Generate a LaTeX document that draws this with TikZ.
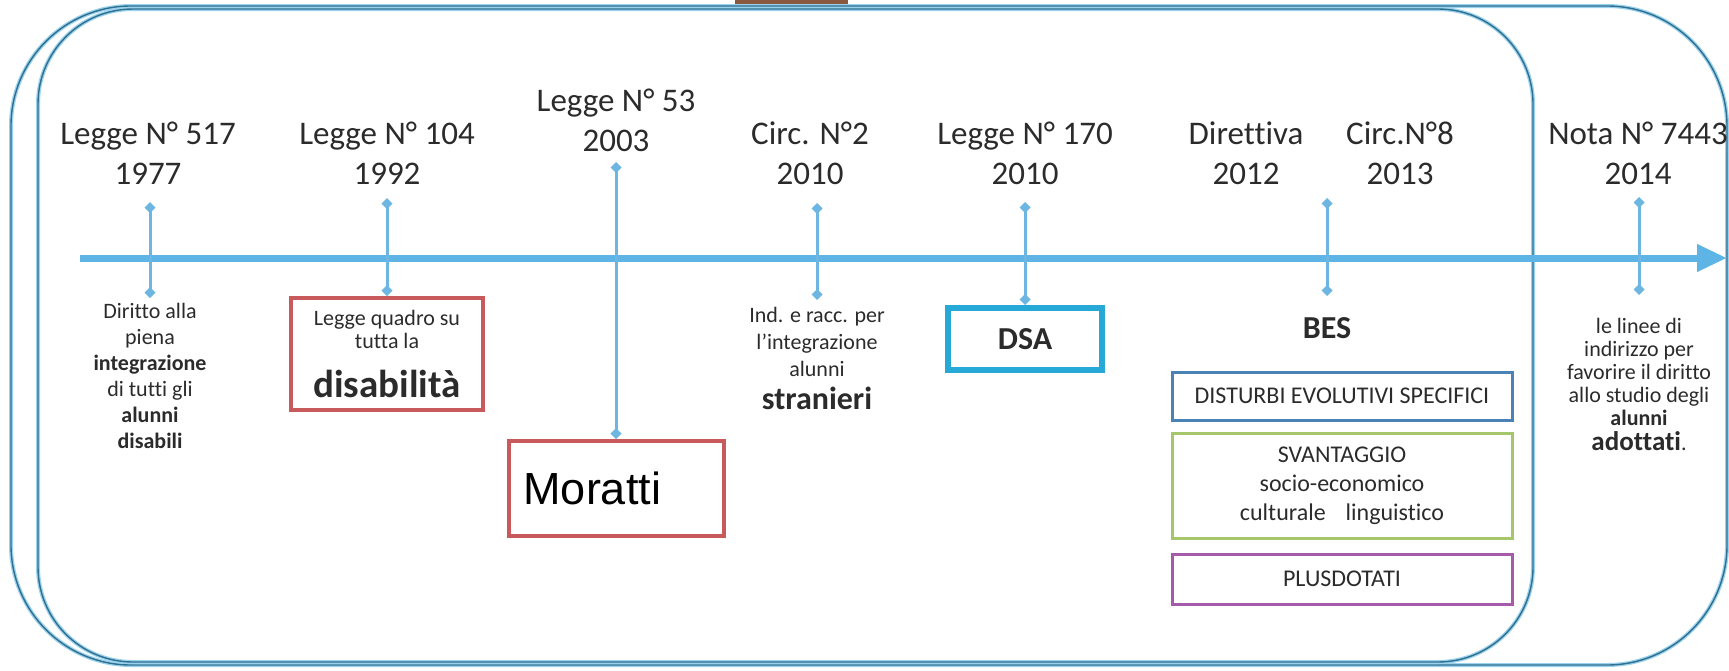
\documentclass[tikz,border=0pt]{standalone}
\usepackage{fontspec}
\setmainfont{Carlito}[Ligatures=NoCommon]
\newfontfamily\arialfont{Liberation Sans}
\usetikzlibrary{arrows.meta}
\definecolor{txt}{HTML}{2B2B2B}
\definecolor{axisblue}{HTML}{5EB4E4}
\definecolor{tickblue}{HTML}{6DB6E2}
\definecolor{framedark}{HTML}{2F6F8F}
\definecolor{frameglow}{HTML}{9AD2EE}
\definecolor{redbox}{HTML}{C85A5C}
\definecolor{dsacyan}{HTML}{26A9D6}
\definecolor{disblue}{HTML}{4A82B6}
\definecolor{svgreen}{HTML}{A5C66A}
\definecolor{pluspurple}{HTML}{A45BAA}
\definecolor{photobrown}{HTML}{8A5A40}
\tikzset{
  frameglowline/.style={draw=frameglow, line width=4pt},
  framedarkline/.style={draw=framedark, line width=1.4pt},
  title/.style={font=\fontsize{33}{40}\selectfont, align=center, inner sep=0pt, text=txt},
  desc/.style={font=\fontsize{22}{26}\selectfont, align=center, inner sep=0pt, text=txt},
  bigbold/.style={font=\fontsize{32}{36}\selectfont\bfseries, inner sep=0pt, text=txt},
  tickline/.style={draw=tickblue, line width=3pt, {Diamond[length=11pt,width=11pt]}-{Diamond[length=11pt,width=11pt]}},
  axisline/.style={draw=axisblue, line width=7pt, -{Triangle[length=30pt,width=26pt]}},
  redframe/.style={draw=redbox, line width=4pt, inner sep=0pt, align=center, text=txt},
  stackbox/.style={line width=3pt, inner sep=0pt, align=center, text=txt, minimum width=340pt, font=\fontsize{24}{29}\selectfont}
}
\begin{document}
\begin{tikzpicture}[x=1pt,y=-1pt]
\useasboundingbox (0,0) rectangle (1729,670);
% scrap of photo at the top edge
\fill[photobrown] (735,0) rectangle (848,9);
% background frames
\draw[frameglowline, rounded corners=120pt] (11,6) rectangle (1727,665);
\draw[framedarkline, rounded corners=120pt] (11,6) rectangle (1727,665);
\draw[frameglowline, rounded corners=95pt] (38,9) rectangle (1533,662);
\draw[framedarkline, rounded corners=95pt] (38,9) rectangle (1533,662);
% axis
\coordinate (axS) at (80,258);
\coordinate (axE) at (1727,258);
\draw[axisline] (axS) -- (axE);
% titles
\node[title] (l517) at (148,153) {Legge N° 517\\1977};
\node[title] (l104) at (387,153) {Legge N° 104\\1992};
\node[title] (l53) at (616,120) {Legge N° 53\\2003};
\node[title] (c2) at (810,153) {Circ. N°2\\2010};
\node[title] (l170) at (1025,153) {Legge N° 170\\2010};
\node[title] (dir) at (1246,153) {Direttiva\\2012};
\node[title] (c8) at (1400,153) {Circ.N°8\\2013};
\node[title] (nota) at (1638,153) {Nota N° 7443\\2014};
% 1977
\coordinate (t1a) at (150,202);
\coordinate (t1b) at (150,298);
\draw[tickline] (t1a) -- (t1b);
\node[desc, anchor=north] (d517) at (150,303) {Diritto alla\\piena\\\textbf{integrazione}\\di tutti gli\\\textbf{alunni}\\\textbf{disabili}};
% 1992
\node[redframe, minimum width=192pt, minimum height=112pt, font=\fontsize{22}{23}\selectfont] (b104) at (387,354) {Legge quadro su\\tutta la\\[20pt]{\fontsize{39}{42}\selectfont\bfseries disabilità}};
\coordinate (t2a) at (387,198);
\draw[tickline] (t2a) -- (b104.north);
% 2003
\node[redframe, minimum width=215pt, minimum height=95pt, text width=185pt, inner xsep=15pt, align=left, font=\fontsize{45}{50}\selectfont\arialfont, text=black] (mor) at (616,488.5) {Moratti};
\coordinate (t3a) at (616,162);
\draw[tickline] (t3a) -- (mor.north);
% Circ 2
\coordinate (t4a) at (817,203);
\coordinate (t4b) at (817,300);
\draw[tickline] (t4a) -- (t4b);
\node[desc, anchor=north, font=\fontsize{22}{27}\selectfont] (d2) at (817,307) {Ind. e racc. per\\l’integrazione\\alunni\\[6pt]{\fontsize{32}{36}\selectfont\bfseries stranieri}};
% Legge 170
\node[draw=dsacyan, line width=6pt, minimum width=154pt, minimum height=62pt, bigbold] (dsa) at (1025,339) {DSA};
\coordinate (t5a) at (1025,202);
\draw[tickline] (t5a) -- (dsa.north);
% BES
\coordinate (t6a) at (1327,198);
\coordinate (t6b) at (1327,296);
\draw[tickline] (t6a) -- (t6b);
\node[bigbold] (bes) at (1327,328) {BES};
\node[stackbox, draw=disblue, minimum height=48pt] (dis) at (1342,396) {DISTURBI EVOLUTIVI SPECIFICI};
\node[stackbox, draw=svgreen, minimum height=105pt] (sva) at (1342,485.5) {SVANTAGGIO\\socio-economico\\culturale\hspace{20pt}linguistico};
\node[stackbox, draw=pluspurple, minimum height=50pt] (plus) at (1342,579) {PLUSDOTATI};
% Nota
\coordinate (t7a) at (1639,197);
\coordinate (t7b) at (1639,295);
\draw[tickline] (t7a) -- (t7b);
\node[desc, anchor=north, font=\fontsize{22}{23}\selectfont] (dn) at (1639,318) {le linee di\\indirizzo per\\favorire il diritto\\allo studio degli\\\textbf{alunni}\\[2pt]{\fontsize{27}{30}\selectfont\bfseries adottati}.};
\end{tikzpicture}
\end{document}
